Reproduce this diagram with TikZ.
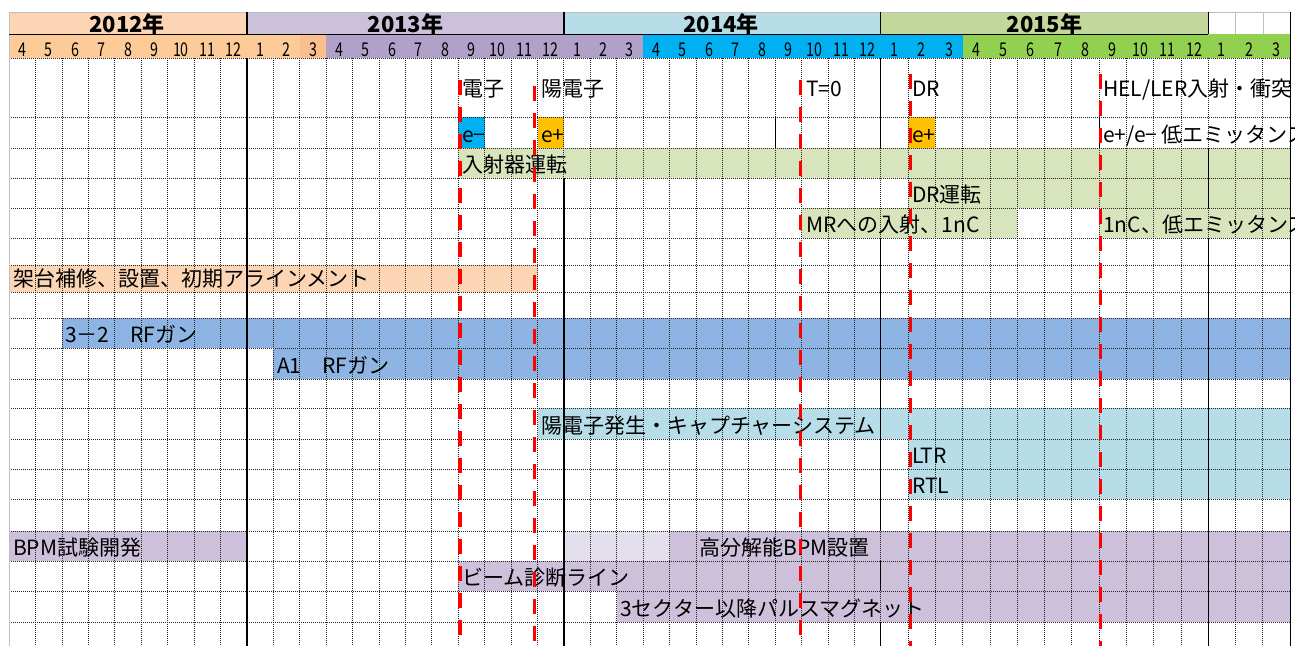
\documentclass[tikz,border=0pt]{standalone}
\usepackage{fontspec}
\setmainfont{Noto Sans CJK JP}
\usepackage{xcolor}
\definecolor{yrA}{HTML}{FCD5B4}
\definecolor{yrB}{HTML}{CCC0DA}
\definecolor{yrC}{HTML}{B7DEE8}
\definecolor{yrD}{HTML}{C4D79B}
\definecolor{moA}{HTML}{FCCB98}
\definecolor{moAdark}{HTML}{FABF8F}
\definecolor{moB}{HTML}{B1A0C7}
\definecolor{moC}{HTML}{00B0F0}
\definecolor{moD}{HTML}{92D050}
\definecolor{bargreen}{HTML}{D8E4BC}
\definecolor{barblue}{HTML}{8DB4E2}
\definecolor{barlight}{HTML}{B7DEE8}
\definecolor{barpurple}{HTML}{CCC0DA}
\definecolor{barpale}{HTML}{E4DFEC}
\definecolor{cellorange}{HTML}{FFC000}
\definecolor{cellcyan}{HTML}{00B0F0}

\begin{document}
\begin{tikzpicture}[x=1pt,y=-1pt,
  gridline/.style={black!85, line width=0.9pt, dash pattern=on 1pt off 1pt},
  yearline/.style={black, line width=1.2pt},
  milestone/.style={red, line width=3.5pt, dash pattern=on 15pt off 12pt},
  task/.style={anchor=base west, inner sep=0pt, font=\fontsize{21}{24}\selectfont},
  monthlbl/.style={anchor=base, inner sep=0pt, font=\fontsize{19}{20}\selectfont},
  yearlbl/.style={anchor=base, inner sep=0pt, font=\fontsize{22}{24}\selectfont\bfseries}]

\useasboundingbox (0,0) rectangle (1295,646);
\clip (0,0) rectangle (1295,646);

% year row
\fill[yrA] (9.3,12) rectangle (247,34.3);
\fill[yrB] (247,12) rectangle (563.9,34.3);
\fill[yrC] (563.9,12) rectangle (880.8,34.3);
\fill[yrD] (880.8,12) rectangle (1208.3,34.3);
\draw[gray!50] (9.3,12) -- (1290.2,12);
\draw[gray!50] (1235.6,12) -- (1235.6,34.3);
\draw[gray!50] (1262.9,12) -- (1262.9,34.3);
\draw[gray!50] (1208.3,34.3) -- (1290.2,34.3);

\node[yearlbl] (y12) at (127,32) {2012年};
\node[yearlbl] (y13) at (405.5,32) {2013年};
\node[yearlbl] (y14) at (721,32) {2014年};
\node[yearlbl] (y15) at (1044.5,32) {2015年};

% month row
\fill[moA] (9.3,34.3) rectangle (299.8,58);
\fill[moAdark] (299.8,34.3) rectangle (326.2,58);
\fill[moB] (326.2,34.3) rectangle (643.1,58);
\fill[moC] (643.1,34.3) rectangle (962.7,58);
\fill[moD] (962.7,34.3) rectangle (1290.2,58);

\foreach \i in {0,...,32} {
  \pgfmathtruncatemacro\m{mod(\i+3,12)+1}
  \node[monthlbl] (m\i) at ({9.3+26.41*(\i+0.5)},56) {\scalebox{0.75}[1]{\m}};
}
\foreach \i in {33,...,47} {
  \pgfmathtruncatemacro\m{mod(\i+3,12)+1}
  \node[monthlbl] (m\i) at ({880.8+27.29*(\i-32.5)},56) {\scalebox{0.75}[1]{\m}};
}

% bars
\fill[cellcyan] (458.3,117) rectangle (484.7,148);
\fill[cellorange] (537.5,117) rectangle (563.9,148);
\fill[cellorange] (908.1,117) rectangle (935.4,148);
\fill[bargreen] (458.3,148) rectangle (1290.2,178);
\fill[bargreen] (908.1,178) rectangle (1290.2,208);
\fill[bargreen] (801.6,208) rectangle (1017.2,238);
\fill[bargreen] (1099.1,208) rectangle (1290.2,238);
\fill[yrA] (9.3,265) rectangle (537.5,292);
\fill[barblue] (62.1,318) rectangle (1290.2,348);
\fill[barblue] (273.4,348) rectangle (1290.2,379);
\fill[barlight] (537.5,408) rectangle (1290.2,439);
\fill[barlight] (908.1,439) rectangle (1290.2,499);
\fill[barpurple] (9.3,531) rectangle (247,561);
\fill[barpale] (563.9,531) rectangle (669.6,561);
\fill[barpurple] (669.6,531) rectangle (1290.2,561);
\fill[barpurple] (458.3,561) rectangle (1290.2,591);
\fill[barpurple] (616.7,591) rectangle (1290.2,622);

% grid
\foreach \i in {1,...,33}
  \draw[gridline] ({9.3+26.41*\i},58) -- ({9.3+26.41*\i},646);
\foreach \i in {34,...,47}
  \draw[gridline] ({880.8+27.29*(\i-33)},58) -- ({880.8+27.29*(\i-33)},646);
\foreach \r in {58,117,148,178,208,238,265,292,318,348,379,408,439,469,499,531,561,591,622}
  \draw[gridline] (9.3,\r) -- (1290.2,\r);
\draw[gray!50] (9.3,12) -- (9.3,646);

% solid borders
\draw[yearline] (9.3,34.3) -- (1208.3,34.3);
\draw[yearline] (247,12) -- (247,34.3);
\draw[yearline] (563.9,12) -- (563.9,34.3);
\draw[yearline] (880.8,12) -- (880.8,34.3);
\draw[yearline] (1208.3,12) -- (1208.3,34.3);
\draw[yearline] (247,58) -- (247,646);
\draw[yearline] (563.9,178) -- (563.9,646);
\draw[yearline] (880.8,58) -- (880.8,148);
\draw[yearline] (880.8,238) -- (880.8,531);
\draw[yearline] (880.8,561) -- (880.8,591);
\draw[yearline] (880.8,622) -- (880.8,646);
\draw[yearline] (1208.3,148) -- (1208.3,208);
\draw[yearline] (1208.3,238) -- (1208.3,646);
\draw[yearline] (775.2,117) -- (775.2,148);
\draw[yearline] (1099.1,117) -- (1099.1,148);
\draw[yearline] (1290.2,12) -- (1290.2,646);

% labels
\node[task] (elec) at (462,96) {電子};
\node[task] (posi) at (541,96) {陽電子};
\node[task] (tzero) at (806,96) {T=0};
\node[task] (dr) at (912,96) {DR};
\node[task] (hel) at (1103,96) {HEL/LER入射・衝突};

\node[task] (em) at (462,142) {e−};
\node[task] (ep) at (541,142) {e+};
\node[task] (epdr) at (912,142) {e+};
\node[task] (lowem) at (1103,142) {e+/e− 低エミッタンス};

\node[task] (linac) at (462,172) {入射器運転};
\node[task] (drrun) at (912,202) {DR運転};
\node[task] (mrinj) at (806,232) {MRへの入射、1nC};
\node[task] (lowemb) at (1103,232) {1nC、低エミッタンス};
\node[task] (stand) at (13,286) {架台補修、設置、初期アラインメント};
\node[task] (gunA) at (65,342) {3－2　RFガン};
\node[task] (gunB) at (277,373) {A1　RFガン};
\node[task] (possys) at (541,433) {陽電子発生・キャプチャーシステム};
\node[task] (ltr) at (912,463) {LTR};
\node[task] (rtl) at (912,493) {RTL};
\node[task] (bpmdev) at (13,555) {BPM試験開発};
\node[task] (bpmhr) at (699,555) {高分解能BPM設置};
\node[task] (bdline) at (462,585) {ビーム診断ライン};
\node[task] (pmag) at (620,616) {3セクター以降パルスマグネット};

% milestones
\draw[milestone] (460,80) -- (460,646);
\draw[milestone] (534.5,86) -- (534.5,646);
\draw[milestone] (800.7,80) -- (800.7,646);
\draw[milestone] (910.7,74) -- (910.7,646);
\draw[milestone] (1100.7,74) -- (1100.7,646);

\end{tikzpicture}
\end{document}
